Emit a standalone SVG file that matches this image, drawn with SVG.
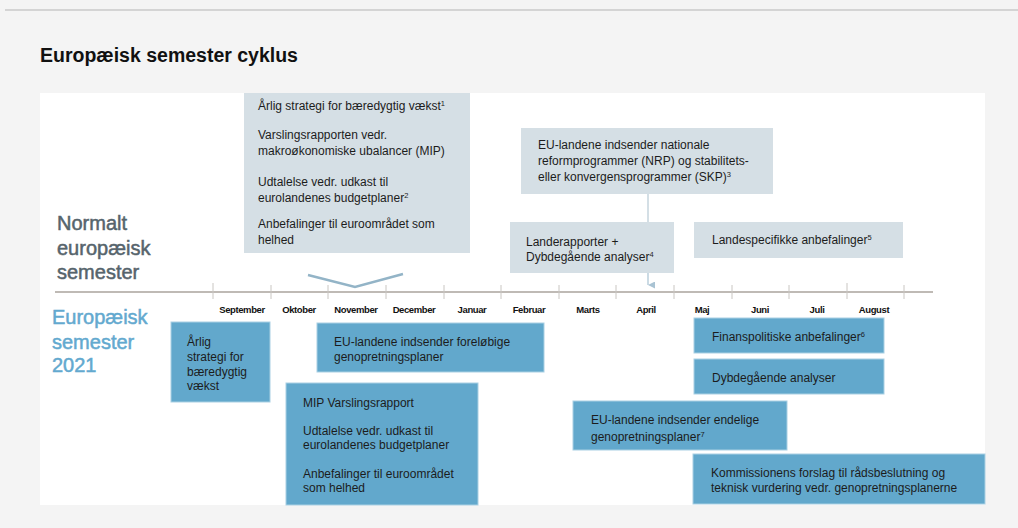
<svg xmlns="http://www.w3.org/2000/svg" width="1018" height="528" viewBox="0 0 1018 528">
<defs>
<style>
.t{font-family:"Liberation Sans",Arial,sans-serif;font-size:12px;fill:#1c1c1c}
.sup{font-size:7.5px}
.m{font-family:"Liberation Sans",Arial,sans-serif;font-size:9.5px;font-weight:bold;fill:#111;text-anchor:middle;letter-spacing:-0.4px}
.g{fill:#d5dfe5}
.b{fill:#62a8cc;stroke:#a9d0e3;stroke-width:1}
.big{font-family:"Liberation Sans",Arial,sans-serif;font-size:20px;stroke-width:0.5px}
.tick{stroke:#c9c6c2;stroke-width:1}
</style>
<marker id="ah" viewBox="0 0 10 10" refX="5" refY="10" markerWidth="7" markerHeight="7" orient="auto-start-reverse" markerUnits="userSpaceOnUse">
<path d="M0,0 L10,0 L5,10 Z" fill="#a9c3d3"/>
</marker>
</defs>
<rect x="0" y="0" width="1018" height="528" fill="#f4f4f4"/>
<line x1="5" y1="10" x2="1018" y2="10" stroke="#b3b3b3" stroke-width="1.2"/>
<text x="40" y="62" font-family="'Liberation Sans',Arial,sans-serif" font-size="19.5" font-weight="bold" fill="#111">Europæisk semester cyklus</text>
<rect x="40" y="93" width="945" height="412" fill="#ffffff"/>

<g id="labels">
<text class="big" fill="#56646c" stroke="#56646c"><tspan x="57" y="230">Normalt</tspan><tspan x="57" y="255">europæisk</tspan><tspan x="57" y="279">semester</tspan></text>
<text class="big" fill="#63a9cf" stroke="#63a9cf"><tspan x="52" y="324">Europæisk</tspan><tspan x="52" y="349">semester</tspan><tspan x="52" y="372">2021</tspan></text>
</g>

<g id="axis">
<line x1="55" y1="292" x2="933" y2="292" stroke="#bfbab5" stroke-width="2"/>
<line class="tick" x1="213" y1="283" x2="213" y2="299" stroke="#9a9590"/>
<line class="tick" x1="271" y1="285" x2="271" y2="299"/>
<line class="tick" x1="328" y1="285" x2="328" y2="299"/>
<line class="tick" x1="386" y1="285" x2="386" y2="299"/>
<line class="tick" x1="444" y1="285" x2="444" y2="299"/>
<line class="tick" x1="501" y1="285" x2="501" y2="299"/>
<line class="tick" x1="559" y1="285" x2="559" y2="299"/>
<line class="tick" x1="616" y1="285" x2="616" y2="299"/>
<line class="tick" x1="674" y1="285" x2="674" y2="299"/>
<line class="tick" x1="732" y1="285" x2="732" y2="299"/>
<line class="tick" x1="789" y1="285" x2="789" y2="299"/>
<line class="tick" x1="847" y1="283" x2="847" y2="299" stroke="#9a9590"/>
<line class="tick" x1="904" y1="285" x2="904" y2="299"/>
<text class="m" x="242" y="313">September</text>
<text class="m" x="299" y="313">Oktober</text>
<text class="m" x="356" y="313">November</text>
<text class="m" x="414" y="313">December</text>
<text class="m" x="472" y="313">Januar</text>
<text class="m" x="529" y="313">Februar</text>
<text class="m" x="588" y="313">Marts</text>
<text class="m" x="646" y="313">April</text>
<text class="m" x="702" y="313">Maj</text>
<text class="m" x="760" y="313">Juni</text>
<text class="m" x="817" y="313">Juli</text>
<text class="m" x="874" y="313">August</text>
</g>

<g id="connectors">
<polyline points="308,275 355,287 403,274" fill="none" stroke="#93b4c7" stroke-width="2.5" stroke-linejoin="miter"/>
<line x1="648" y1="194" x2="648" y2="222" stroke="#a9bfcc" stroke-width="1"/>
<line x1="648" y1="273" x2="648" y2="285" stroke="#a9c3d3" stroke-width="1.2" marker-end="url(#ah)"/>
</g>

<g id="normal-autumn">
<rect class="g" x="244" y="93" width="226" height="160"/>
<text class="t"><tspan x="258" y="110">Årlig strategi for bæredygtig vækst<tspan class="sup" dy="-4">1</tspan></tspan></text>
<text class="t"><tspan x="258" y="139">Varslingsrapporten vedr.</tspan><tspan x="258" y="155">makroøkonomiske ubalancer (MIP)</tspan></text>
<text class="t"><tspan x="258" y="186">Udtalelse vedr. udkast til</tspan><tspan x="258" y="202">eurolandenes budgetplaner<tspan class="sup" dy="-4">2</tspan></tspan></text>
<text class="t"><tspan x="258" y="228">Anbefalinger til euroområdet som</tspan><tspan x="258" y="244">helhed</tspan></text>
</g>

<g id="normal-nrp">
<rect class="g" x="521" y="128" width="252" height="66"/>
<text class="t"><tspan x="538" y="149">EU-landene indsender nationale</tspan><tspan x="538" y="165">reformprogrammer (NRP) og stabilitets-</tspan><tspan x="538" y="181">eller konvergensprogrammer (SKP)<tspan class="sup" dy="-4">3</tspan></tspan></text>
</g>

<g id="normal-landerapporter">
<rect class="g" x="510" y="222" width="164" height="51"/>
<text class="t"><tspan x="526" y="246">Landerapporter +</tspan><tspan x="526" y="261">Dybdegående analyser<tspan class="sup" dy="-4">4</tspan></tspan></text>
</g>

<g id="normal-landespecifikke">
<rect class="g" x="694" y="222" width="209" height="36"/>
<text class="t" x="712" y="244">Landespecifikke anbefalinger<tspan class="sup" dy="-4">5</tspan></text>
</g>

<g id="y2021-strategi">
<rect class="b" x="171" y="322" width="99" height="80"/>
<text class="t"><tspan x="187" y="346">Årlig</tspan><tspan x="187" y="361">strategi for</tspan><tspan x="187" y="376">bæredygtig</tspan><tspan x="187" y="390">vækst</tspan></text>
</g>

<g id="y2021-forelobige">
<rect class="b" x="317" y="323" width="227" height="49"/>
<text class="t"><tspan x="334" y="346">EU-landene indsender foreløbige</tspan><tspan x="334" y="361">genopretningsplaner</tspan></text>
</g>

<g id="y2021-mip">
<rect class="b" x="286" y="383" width="192" height="122"/>
<text class="t"><tspan x="303" y="407">MIP Varslingsrapport</tspan></text>
<text class="t"><tspan x="303" y="435">Udtalelse vedr. udkast til</tspan><tspan x="303" y="449">eurolandenes budgetplaner</tspan></text>
<text class="t"><tspan x="303" y="478">Anbefalinger til euroområdet</tspan><tspan x="303" y="492">som helhed</tspan></text>
</g>

<g id="y2021-endelige">
<rect class="b" x="573" y="401" width="214" height="49"/>
<text class="t"><tspan x="591" y="424">EU-landene indsender endelige</tspan><tspan x="591" y="441">genopretningsplaner<tspan class="sup" dy="-4">7</tspan></tspan></text>
</g>

<g id="y2021-finans">
<rect class="b" x="694" y="318" width="190" height="35"/>
<text class="t" x="712" y="341">Finanspolitiske anbefalinger<tspan class="sup" dy="-4">6</tspan></text>
</g>

<g id="y2021-dybde">
<rect class="b" x="694" y="359" width="190" height="35"/>
<text class="t" x="712" y="382">Dybdegående analyser</text>
</g>

<g id="y2021-kommission">
<rect class="b" x="693" y="454" width="292" height="50"/>
<text class="t"><tspan x="711" y="477">Kommissionens forslag til rådsbeslutning og</tspan><tspan x="711" y="492">teknisk vurdering vedr.  genopretningsplanerne</tspan></text>
</g>
</svg>
